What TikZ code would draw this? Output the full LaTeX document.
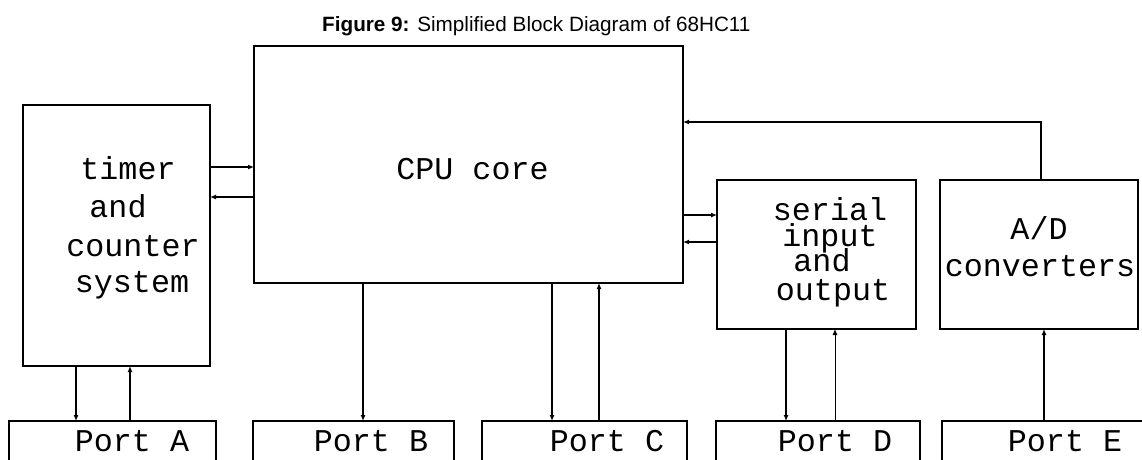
\documentclass[tikz,border=0pt]{standalone}
\usepackage{fontspec}
\setmainfont{Liberation Sans}
\newfontfamily\monofam{Liberation Mono}
\usetikzlibrary{arrows.meta}
\begin{document}
\begin{tikzpicture}[x=1pt,y=-1pt,
  blk/.style={draw, line width=2.6pt, inner sep=0pt, outer sep=0pt},
  txt/.style={font=\monofam\fontsize{31.7}{37}\selectfont, inner sep=0pt, anchor=base},
  arr/.style={line width=1.5pt, -{Latex[length=6pt,width=5pt]}},
  thinarr/.style={line width=0.9pt, -{Latex[length=6pt,width=5pt]}}]
\useasboundingbox (0,0) rectangle (1142,459);
% title
\node[inner sep=0pt, anchor=base west] (title) at (322,31)
  {\fontsize{20.7}{24}\selectfont\textbf{Figure 9:} Simplified Block Diagram of 68HC11};
% blocks
\node[blk, minimum width=187pt, minimum height=261pt] (timer) at (116.5,235.5) {};
\node[blk, minimum width=429pt, minimum height=237pt] (cpu) at (468.5,164.5) {};
\node[blk, minimum width=199pt, minimum height=149pt] (serial) at (816.5,254.5) {};
\node[blk, minimum width=198pt, minimum height=149pt] (ad) at (1039,254.5) {};
\node[blk, minimum width=207pt, minimum height=80pt] (pA) at (112.5,461) {};
\node[blk, minimum width=201pt, minimum height=80pt] (pB) at (353.5,461) {};
\node[blk, minimum width=205pt, minimum height=80pt] (pC) at (584.5,461) {};
\node[blk, minimum width=204pt, minimum height=80pt] (pD) at (818,461) {};
\node[blk, minimum width=208pt, minimum height=80pt] (pE) at (1046,461) {};
% texts
\node[txt] (t1) at (128,179) {timer};
\node[txt] (t2) at (118,217) {and};
\node[txt] (t3) at (133,256.5) {counter};
\node[txt] (t4) at (132,292) {system};
\node[txt] (c1) at (472.5,179) {CPU core};
\node[txt] (s1) at (830,220) {serial};
\node[txt] (s2) at (830,246.5) {input};
\node[txt] (s3) at (822,271.5) {and};
\node[txt] (s4) at (833,300) {output};
\node[txt] (a1) at (1039,239) {A/D};
\node[txt] (a2) at (1040,276.5) {converters};
\node[txt] (lA) at (132,451) {Port A};
\node[txt] (lB) at (371,451) {Port B};
\node[txt] (lC) at (607,451) {Port C};
\node[txt] (lD) at (835,451) {Port D};
\node[txt] (lE) at (1065,451) {Port E};
% helper coordinates
\coordinate (y167) at (0,167);
\coordinate (y197) at (0,197);
\coordinate (y215) at (0,215);
\coordinate (y242) at (0,242);
\coordinate (y122) at (0,122);
\coordinate (x76) at (76,0);
\coordinate (x130) at (130,0);
\coordinate (x363) at (363,0);
\coordinate (x552) at (552,0);
\coordinate (x599) at (599,0);
\coordinate (x786) at (786,0);
\coordinate (x835) at (835,0);
\coordinate (x1041) at (1041,0);
\coordinate (x1044) at (1044,0);
\coordinate (bend) at (1041,122);
% connectors
\draw[arr] (timer.east |- y167) -- (cpu.west |- y167);
\draw[arr] (cpu.west |- y197) -- (timer.east |- y197);
\draw[arr] (timer.south -| x76) -- (pA.north -| x76);
\draw[arr] (pA.north -| x130) -- (timer.south -| x130);
\draw[arr] (cpu.south -| x363) -- (pB.north -| x363);
\draw[arr] (cpu.south -| x552) -- (pC.north -| x552);
\draw[arr] (pC.north -| x599) -- (cpu.south -| x599);
\draw[arr] (cpu.east |- y215) -- (serial.west |- y215);
\draw[arr] (serial.west |- y242) -- (cpu.east |- y242);
\draw[arr] (serial.south -| x786) -- (pD.north -| x786);
\draw[thinarr] (pD.north -| x835) -- (serial.south -| x835);
\draw[arr] (pE.north -| x1044) -- (ad.south -| x1044);
\draw[arr] (ad.north -| x1041) -- (bend) -- (cpu.east |- y122);
\end{tikzpicture}
\end{document}
